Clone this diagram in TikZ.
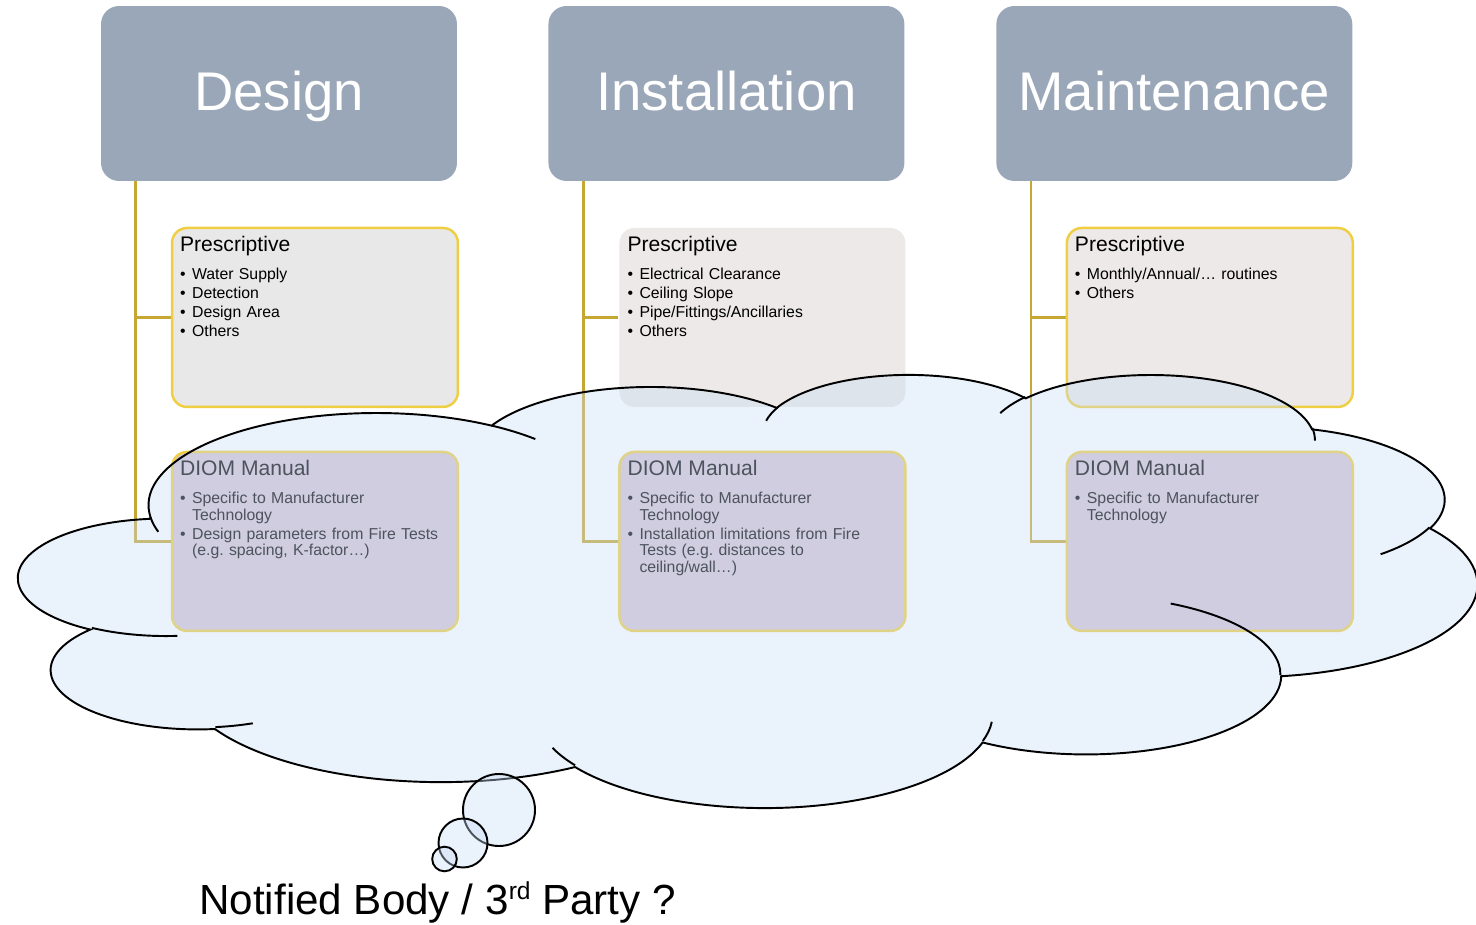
\documentclass[tikz,border=0pt]{standalone}
\usepackage{fontspec}
\setmainfont{Liberation Sans}
\usetikzlibrary{positioning,backgrounds}

\definecolor{headgrey}{RGB}{154,167,184}
\definecolor{linkgold}{RGB}{198,167,52}
\definecolor{boxgold}{RGB}{240,206,66}
\definecolor{presgrey}{RGB}{232,232,232}
\definecolor{preswarm}{RGB}{236,233,232}
\definecolor{diomfill}{RGB}{213,196,213}
\definecolor{cloudblue}{RGB}{200,220,245}

\newcommand{\bitem}[1]{\setlength{\parskip}{1.4pt}\frenchspacing
  \hyphenpenalty=10000 \exhyphenpenalty=10000
  \noindent\hangindent=6.8pt\hangafter=1
  \makebox[6.8pt][l]{\textbullet}\rule{0pt}{7pt}#1\par}

% one puff of the cloud: x radius, y radius, start and sweep angle seen from the centre
\tikzset{
  lobe/.code n args={4}{%
    \pgfmathsetmacro\lobeS{atan2(#1*sin(#3),#2*cos(#3))}%
    \pgfmathsetmacro\lobeE{atan2(#1*sin(#3+#4),#2*cos(#3+#4))}%
    \pgfmathsetmacro\lobeD{mod(\lobeE-\lobeS+720,360)}%
    \edef\lobeKeys{x radius=#1,y radius=#2,start angle=\lobeS,delta angle=\lobeD}%
    \expandafter\pgfkeysalso\expandafter{\lobeKeys}}
}

\begin{document}
\begin{tikzpicture}[x=0.02cm,y=-0.02cm,node distance=2cm,on grid,
    head/.style={rectangle,rounded corners=0.36cm,fill=headgrey,text=white,
      minimum width=7.12cm,minimum height=3.5cm,inner sep=0pt,
      font=\fontsize{31}{36}\selectfont,text height=22.8pt,text depth=3pt},
    sub/.style={rectangle,rounded corners=0.3cm,draw=boxgold,line width=1.4pt,
      minimum width=5.72cm,minimum height=3.58cm,inner sep=0pt},
    boxhead/.style={anchor=base west,inner sep=0pt,font=\fontsize{12}{14}\selectfont},
    items/.style={anchor=north west,inner sep=0pt,text width=5.26cm,align=left,
      font=\fontsize{9}{9.5}\selectfont},
    link/.style={draw=linkgold,line width=1.6pt},
    cloudline/.style={draw=black,line width=1.1pt},
    puff/.style={cloudline,fill=cloudblue,fill opacity=0.38}]

  \useasboundingbox (0,0) rectangle (1476,925);

  % column heads
  \node[head] (design) at (279,93.5) {Design};
  \node[head] (install) [right=8.95cm of design] {Installation};
  \node[head] (maint) [right=8.96cm of install] {Maintenance};

  % prescriptive boxes
  \node[sub,fill=presgrey] (pres1) [below right=4.48cm and 0.72cm of design] {};
  \node[sub,fill=preswarm,draw=none] (pres2) [below right=4.48cm and 0.72cm of install] {};
  \node[sub,fill=preswarm] (pres3) [below right=4.48cm and 0.71cm of maint] {};

  % manuals
  \node[sub,fill=diomfill] (dio1) [below=4.48cm of pres1] {};
  \node[sub,fill=diomfill] (dio2) [below=4.48cm of pres2] {};
  \node[sub,fill=diomfill] (dio3) [below=4.48cm of pres3] {};

  \begin{scope}[on background layer]
    \foreach \h/\p/\d in {design/pres1/dio1,install/pres2/dio2,maint/pres3/dio3}{
      \draw[link] ([xshift=0.7cm]\h.south west) |- (\p.west);
      \draw[link] ([xshift=0.7cm]\h.south west) |- (\d.west);
    }
  \end{scope}

  \node[boxhead] (pres1head) at ([shift={(9,24.7)}]pres1.north west) {Prescriptive};
  \node[items] (pres1list) at ([shift={(9,40)}]pres1.north west)
    {\bitem{Water Supply}\bitem{Detection}\bitem{Design Area}\bitem{Others}};
  \node[boxhead] (pres2head) at ([shift={(9,24.7)}]pres2.north west) {Prescriptive};
  \node[items] (pres2list) at ([shift={(9,40)}]pres2.north west)
    {\bitem{Electrical Clearance}\bitem{Ceiling Slope}\bitem{Pipe/Fittings/Ancillaries}\bitem{Others}};
  \node[boxhead] (pres3head) at ([shift={(9,24.7)}]pres3.north west) {Prescriptive};
  \node[items] (pres3list) at ([shift={(9,40)}]pres3.north west)
    {\bitem{Monthly/Annual/… routines}\bitem{Others}};

  \node[boxhead] (dio1head) at ([shift={(9,24.7)}]dio1.north west) {DIOM Manual};
  \node[items] (dio1list) at ([shift={(9,40)}]dio1.north west)
    {\bitem{Specific to Manufacturer Technology}\bitem{Design parameters from Fire Tests (e.g. spacing, K-factor…)}};
  \node[boxhead] (dio2head) at ([shift={(9,24.7)}]dio2.north west) {DIOM Manual};
  \node[items] (dio2list) at ([shift={(9,40)}]dio2.north west)
    {\bitem{Specific to Manufacturer Technology}\bitem{Installation limitations from Fire\newline Tests (e.g. distances to\newline ceiling/wall…)}};
  \node[boxhead] (dio3head) at ([shift={(9,24.7)}]dio3.north west) {DIOM Manual};
  \node[items] (dio3list) at ([shift={(9,40)}]dio3.north west)
    {\bitem{Specific to Manufacturer Technology}};

  % the cloud
  \begin{scope}[shift={(19,373.5)},x=0.0675cm,y=-0.02005cm]
    \path[puff] (39.00,143.70)
      arc[lobe={67.53}{91.90}{-190.4875}{123.7805}]
      arc[lobe={53.33}{72.67}{-144.1024}{89.9452}]
      arc[lobe={43.65}{59.45}{-145.8079}{99.7230}]
      arc[lobe={48.57}{65.95}{-130.9861}{117.2417}]
      arc[lobe={53.33}{72.73}{-78.7089}{109.0269}]
      arc[lobe={67.75}{92.20}{-46.2673}{130.2690}]
      arc[lobe={57.85}{78.67}{0.6250}{114.0333}]
      arc[lobe={67.52}{92.15}{22.4516}{115.1726}]
      arc[lobe={77.20}{105.43}{66.2426}{75.7110}]
      arc[lobe={43.60}{59.18}{-274.9421}{146.7356}]
      arc[lobe={43.45}{59.45}{-246.8285}{152.5189}]
      -- cycle;
    \draw[cloudline]
      (46.93,261.77) arc[lobe={43.45}{59.45}{86.7420}{26.4295}]
      (69.28,348.99) arc[lobe={43.60}{59.18}{73.6105}{11.4475}]
      (164.78,390.90) arc[lobe={67.52}{92.15}{137.6242}{14.0811}]
      (288.27,347.51) arc[lobe={67.52}{92.15}{6.4533}{15.9984}]
      (341.29,229.54) arc[lobe={57.85}{78.67}{-70.2924}{70.9174}]
      (417.98,153.54) arc[lobe={53.33}{72.73}{30.3180}{27.7515}]
      (383.24,54.26) arc[lobe={48.57}{65.95}{-13.7443}{14.8589}]
      (290.78,39.52) arc[lobe={48.57}{65.95}{-149.1815}{18.1954}]
      (221.41,47.20) arc[lobe={43.65}{59.45}{-163.4943}{17.6864}]
      (140.00,51.92) arc[lobe={67.53}{91.90}{-66.7070}{12.3194}]
      (41.27,157.89) arc[lobe={67.53}{91.90}{157.6544}{11.8582}];
  \end{scope}

  % thought bubbles
  \path[puff] (499,810) circle[radius=36];
  \path[puff] (463,843) circle[radius=24.5];
  \path[puff] (444.5,859) circle[radius=12.3];

  \node[anchor=base west,inner sep=0pt,font=\fontsize{24}{28}\selectfont] (party) at (199,914)
    {Notified Body / 3\raisebox{8pt}{\fontsize{14}{14}\selectfont rd} Party ?};
\end{tikzpicture}
\end{document}
